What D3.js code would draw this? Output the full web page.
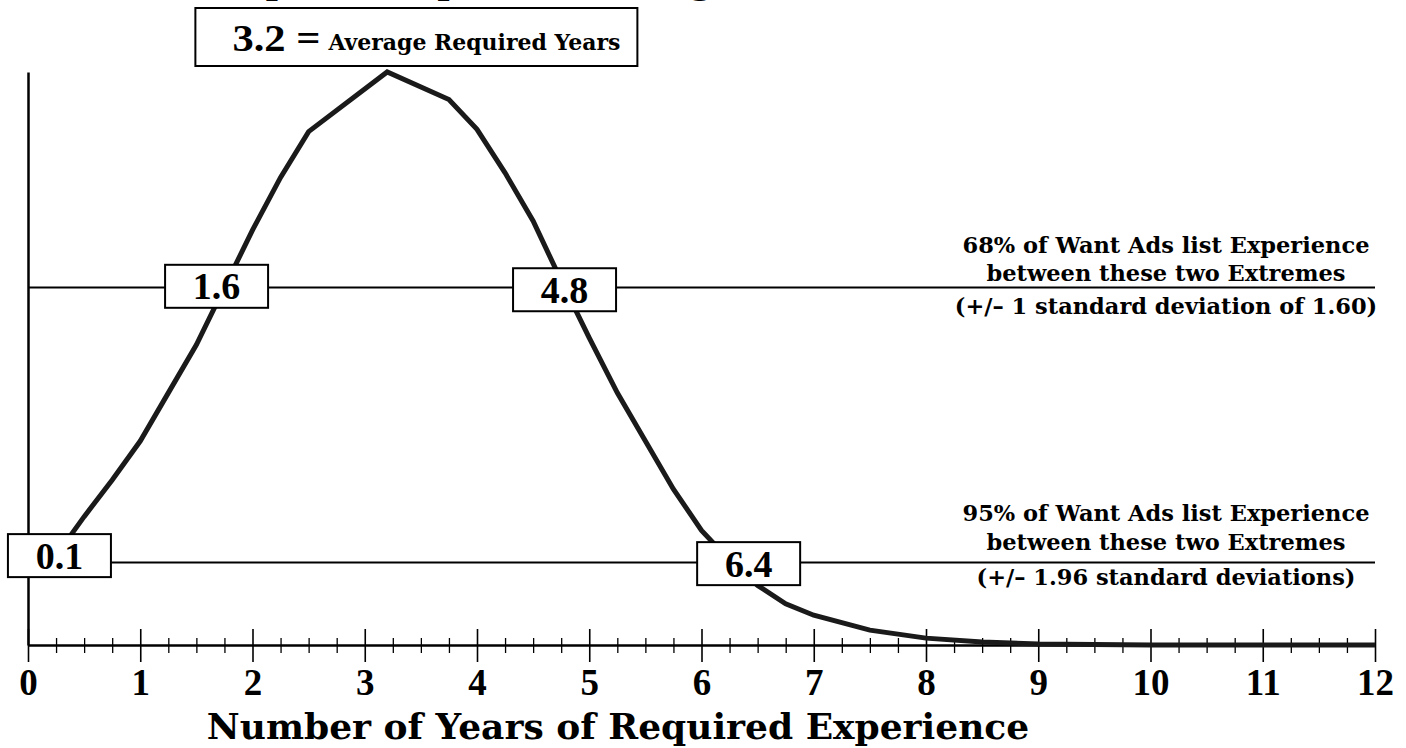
<!DOCTYPE html>
<html>
<head>
<meta charset="utf-8">
<script src="https://cdn.jsdelivr.net/npm/d3@7"></script>
<style>
  body { margin: 0; background: #fff; }
  svg { display: block; }
  .serif { font-family: "DejaVu Serif", serif; font-weight: bold; }
  .narrow { font-family: "Liberation Serif", serif; font-weight: bold; }
</style>
</head>
<body>
<script>
// years of required experience and the curve height
var years = [0.1, 0.25, 0.5, 0.75, 1.0, 1.25, 1.5, 1.75, 2.0, 2.25, 2.5, 3.2, 3.75, 4.0, 4.25, 4.5,
             4.75, 5.0, 5.25, 5.5, 5.75, 6.0, 6.25, 6.5, 6.75, 7.0, 7.5, 8.0, 8.5, 9.0, 10, 11, 12];
var share = [3.2, 3.9, 5.6, 7.2, 8.9, 11.0, 13.1, 15.6, 18.1, 20.4, 22.4, 25.0, 23.8, 22.5, 20.6, 18.5,
             15.9, 13.4, 11.0, 8.9, 6.8, 5.0, 3.7, 2.6, 1.8, 1.3, 0.65, 0.3, 0.13, 0.04, 0, 0, 0];

var majorTicks = [0, 1, 2, 3, 4, 5, 6, 7, 8, 9, 10, 11, 12];
var minorTicks = [];
for (let i = 0; i <= 48; i++) { if (i % 4 != 0) minorTicks.push(i / 4); }

// the two bands (+/- 1 sd and +/- 1.96 sd) and their labels
var bandLevels = [15.6, 3.6];
var boxLabels = ["0.1", "1.6", "4.8", "6.4"];
var boxYears = [0.28, 1.68, 4.78, 6.42];
var boxLevels = [3.9, 15.65, 15.5, 3.55];

var noteLines68 = ["68% of Want Ads list Experience", "between these two Extremes", "(+/\u2013 1 standard deviation of  1.60)"];
var noteLines95 = ["95% of Want Ads list Experience", "between these two Extremes", "(+/\u2013 1.96 standard deviations)"];

var meanValue = "3.2";
var meanText = "Average Required Years";

var totalWidth = 1406, totalHeight = 748;

var svg = d3.select("body").append("svg")
            .attr("width", totalWidth)
            .attr("height", totalHeight);

svg.append("rect").attr("width", totalWidth).attr("height", totalHeight).attr("fill", "#fff");

var xScale = d3.scaleLinear().domain([0, 12]).range([28, 1375]);
var yScale = d3.scaleLinear().domain([0, 25]).range([645, 72]);

// title, mostly cut off by the top edge (only descenders show)
svg.append("text")
   .attr("class", "serif")
   .attr("x", 470)
   .attr("y", -6)
   .attr("text-anchor", "middle")
   .style("font-size", "34px")
   .text("Required Experience Range");

// band lines
svg.selectAll(".band")
   .data(bandLevels)
   .enter()
   .append("line")
   .attr("class", "band")
   .attr("x1", xScale(0))
   .attr("x2", xScale(12))
   .attr("y1", function(d) { return yScale(d); })
   .attr("y2", function(d) { return yScale(d); })
   .attr("stroke", "#000")
   .attr("stroke-width", 2);

// y axis (bare line)
var yAxis = d3.axisLeft(yScale).tickValues([]).tickSizeOuter(0);
svg.append("g")
   .attr("transform", "translate(" + xScale(0) + ",0)")
   .call(yAxis)
   .select(".domain")
   .attr("stroke-width", 2.5);

// x axis: minor ticks
var xMinor = d3.axisBottom(xScale).tickValues(minorTicks).tickFormat("").tickSizeOuter(0);
var gMinor = svg.append("g")
   .attr("transform", "translate(0," + yScale(0) + ")")
   .call(xMinor);
gMinor.select(".domain").remove();
gMinor.selectAll(".tick line").attr("y1", -7).attr("y2", 8).attr("stroke-width", 1.3);

// x axis: major ticks and labels
var xAxis = d3.axisBottom(xScale).tickValues(majorTicks).tickSizeOuter(0);
var gAxis = svg.append("g")
   .attr("transform", "translate(0," + yScale(0) + ")")
   .call(xAxis);
gAxis.attr("font-size", 37).attr("font-family", "Liberation Serif").attr("font-weight", "bold");
gAxis.select(".domain").attr("stroke-width", 2.5);
gAxis.selectAll(".tick line").attr("y1", -16).attr("y2", 17).attr("stroke-width", 1.6);
gAxis.selectAll(".tick text")
     .attr("y", 50)
     .attr("dy", 0)
     .attr("fill", "#000");

// axis title
svg.append("text")
   .attr("class", "serif")
   .attr("x", 618)
   .attr("y", 739)
   .attr("text-anchor", "middle")
   .style("font-size", "36px")
   .text("Number of Years of Required Experience");

// the curve
var points = years.map(function(d, i) { return [d, share[i]]; });
var line = d3.line()
             .x(function(d) { return xScale(d[0]); })
             .y(function(d) { return yScale(d[1]); });

svg.append("path")
   .datum(points)
   .attr("d", line)
   .attr("fill", "none")
   .attr("stroke", "#1a1a1a")
   .attr("stroke-width", 5)
   .attr("stroke-linejoin", "miter");

// value boxes
var boxW = 103, boxH = 43;
var boxes = svg.selectAll(".box")
               .data(boxLabels)
               .enter()
               .append("g")
               .attr("class", "box")
               .attr("transform", function(d, i) {
                 return "translate(" + xScale(boxYears[i]) + "," + yScale(boxLevels[i]) + ")";
               });

boxes.append("rect")
     .attr("x", -boxW / 2)
     .attr("y", -boxH / 2)
     .attr("width", boxW)
     .attr("height", boxH)
     .attr("fill", "#fff")
     .attr("stroke", "#000")
     .attr("stroke-width", 2);

boxes.append("text")
     .attr("class", "narrow")
     .attr("text-anchor", "middle")
     .attr("y", 13)
     .style("font-size", "38px")
     .text(function(d) { return d; });

// mean box above the peak
var meanBox = svg.append("g")
                 .attr("transform", "translate(" + xScale(3.46) + ",37)");
meanBox.append("rect")
       .attr("x", -221)
       .attr("y", -29)
       .attr("width", 442)
       .attr("height", 58)
       .attr("fill", "#fff")
       .attr("stroke", "#000")
       .attr("stroke-width", 2);
meanBox.append("text")
       .attr("class", "narrow")
       .attr("x", -184)
       .attr("y", 14)
       .attr("textLength", 88)
       .attr("lengthAdjust", "spacingAndGlyphs")
       .style("font-size", "38px")
       .text(meanValue + " =");
meanBox.append("text")
       .attr("class", "serif")
       .attr("x", -88)
       .attr("y", 13)
       .attr("textLength", 292)
       .attr("lengthAdjust", "spacingAndGlyphs")
       .style("font-size", "22px")
       .text(meanText);

// notes on the right
function drawNote(lines, baselines) {
  svg.selectAll(null)
     .data(lines)
     .enter()
     .append("text")
     .attr("class", "serif")
     .attr("x", 1166)
     .attr("y", function(d, i) { return baselines[i]; })
     .attr("text-anchor", "middle")
     .style("font-size", "22.5px")
     .text(function(d) { return d; });
}
drawNote(noteLines68, [253, 281, 314]);
drawNote(noteLines95, [521, 550, 585]);
</script>
</body>
</html>
